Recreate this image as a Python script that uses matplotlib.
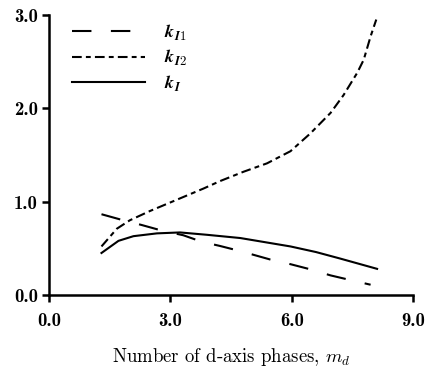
import matplotlib
matplotlib.use("Agg")
import matplotlib.pyplot as plt

# values
x_k1 = [1.30, 1.84, 2.29, 2.79, 3.32, 3.78, 4.23, 4.73, 5.47, 5.97, 6.46, 6.96, 7.45, 7.95]
y_k1 = [0.865, 0.80, 0.75, 0.69, 0.64, 0.57, 0.525, 0.47, 0.38, 0.33, 0.275, 0.21, 0.16, 0.11]

x_k2 = [1.30, 1.68, 2.0, 2.5, 3.16, 3.82, 4.23, 4.81, 5.39, 5.97, 6.46, 6.96,
        7.28, 7.62, 7.78, 7.95, 8.09]
y_k2 = [0.52, 0.71, 0.80, 0.90, 1.02, 1.14, 1.22, 1.32, 1.41, 1.54, 1.73, 1.95,
        2.14, 2.38, 2.52, 2.77, 2.95]

x_k = [1.30, 1.72, 2.09, 2.67, 3.24, 3.90, 4.73, 5.97, 6.6, 7.2, 8.11]
y_k = [0.45, 0.58, 0.63, 0.66, 0.67, 0.645, 0.61, 0.52, 0.46, 0.39, 0.28]

labels = [r"$\boldsymbol{k}_{\boldsymbol{I}\mathbf{1}}$",
          r"$\boldsymbol{k}_{\boldsymbol{I}\mathbf{2}}$",
          r"$\boldsymbol{k}_{\boldsymbol{I}}$"]
xticks = [0.0, 3.0, 6.0, 9.0]
yticks = [0.0, 1.0, 2.0, 3.0]

plt.rcParams['mathtext.fontset'] = 'cm'
plt.rcParams['lines.scale_dashes'] = False

fig = plt.figure(figsize=(4.25, 3.72), dpi=100)
ax = fig.add_axes([0.115, 0.207, 0.857, 0.753])

ax.plot(x_k1, y_k1, color='black', lw=1.5, dashes=(14, 14), label=labels[0])
ax.plot(x_k2, y_k2, color='black', lw=1.5, dashes=(7, 3, 3.5, 3), label=labels[1])
ax.plot(x_k, y_k, color='black', lw=1.5, label=labels[2])

ax.set_xlim(0, 9)
ax.set_ylim(0, 3)
ax.set_xticks(xticks)
ax.set_yticks(yticks)
ax.set_xticklabels([f"{t:.1f}" for t in xticks], family='cmb10', fontsize=13.5)
ax.set_yticklabels([f"{t:.1f}" for t in yticks], family='cmb10', fontsize=13.5)
ax.tick_params(direction='out', length=5, width=1.8)
ax.tick_params(axis='x', pad=7)
ax.tick_params(axis='y', pad=3)
for s in ['top', 'right']:
    ax.spines[s].set_visible(False)
for s in ['left', 'bottom']:
    ax.spines[s].set_linewidth(1.8)

ax.set_xlabel(r"Number of d-axis phases, $m_d$", family='cmr10', fontsize=13.5, labelpad=12)

ax.legend(loc='upper left', bbox_to_anchor=(0.02, 1.03), frameon=False,
          handlelength=4.0, handletextpad=1.1, labelspacing=0.3, fontsize=13)

fig.savefig("out.png", dpi=100)
